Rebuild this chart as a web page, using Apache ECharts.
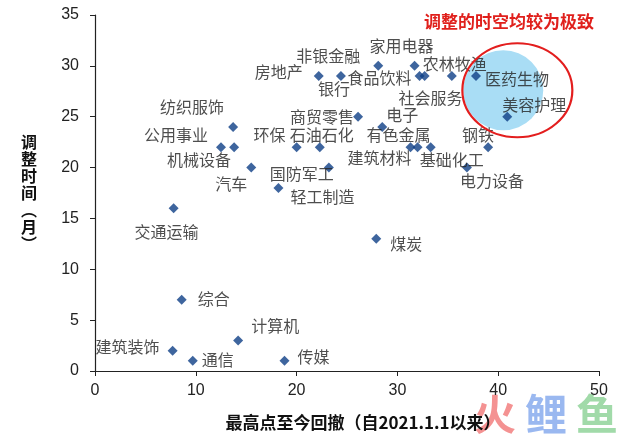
<!DOCTYPE html>
<html><head><meta charset="utf-8">
<script src="https://cdn.jsdelivr.net/npm/echarts@6/dist/echarts.min.js"></script>
<style>html,body{margin:0;padding:0;background:#fff}#c{width:640px;height:436px}</style>
</head><body><div id="c"></div>
<script>
// industry names
var names = ['非银金融','家用电器','房地产','银行','食品饮料','社会服务','农林牧渔','医药生物',
  '美容护理','商贸零售','电子','纺织服饰',
  '公用事业','机械设备','环保','石油石化','有色金属','建筑材料','基础化工','钢铁',
  '汽车','国防军工','电力设备','轻工制造','交通运输','煤炭',
  '综合','计算机','建筑装饰','通信','传媒'];
// drawdown from peak since 2021.1.1 (%)
var drawdown = [28.1,31.7,22.2,24.4,32.2,32.7,35.4,37.8,
  40.9,26.1,28.5,13.7,
  12.5,13.8,20.0,22.3,31.3,32.0,33.3,39.0,
  15.5,23.2,36.9,18.2,7.8,27.9,
  8.6,14.2,7.7,9.7,18.8];
// adjustment duration (months)
var months = [30,30,29,29,29,29,29,29,
  25,25,24,24,
  22,22,22,22,22,22,22,22,
  20,20,20,18,16,13,
  7,3,2,1,1];
var xTicks = [0,10,20,30,40,50];
var yTicks = [0,5,10,15,20,25,30,35];

// label layout (pixel offsets from marker), kept separate from data
var labelOffsets = {
  '非银金融':[-50,-10],'家用电器':[-13,-20],'房地产':[-40,-4],'银行':[-7,13],
  '食品饮料':[-40,2],'社会服务':[6,22],'农林牧渔':[3,-12],'医药生物':[41,3],
  '美容护理':[27,-12],'商贸零售':[-36,0],'电子':[20,-12],'纺织服饰':[-41,-20],
  '公用事业':[-45,-12],'机械设备':[-35,13],'环保':[-27,-12],'石油石化':[2,-12],
  '有色金属':[-12,-12],'建筑材料':[-38,11],'基础化工':[21,13],'钢铁':[-10,-12],
  '汽车':[-20,16],'国防军工':[-27,6],'电力设备':[25,13],'轻工制造':[44,9],
  '交通运输':[-7,24],'煤炭':[30,5],'综合':[32,-1],'计算机':[37,-15],
  '建筑装饰':[-45,-4],'通信':[25,-1],'传媒':[29,-4]
};

var pts = names.map(function(n,i){
  return {name:n, value:[drawdown[i], months[i]]};
});

var cjk = '"Noto Sans CJK SC", sans-serif';
var chart = echarts.init(document.getElementById('c'), null, {renderer:'canvas'});
chart.setOption({
  animation:false,
  grid:{left:95, right:41, top:15, bottom:65, containLabel:false},
  xAxis:{type:'value', min:xTicks[0], max:xTicks[xTicks.length-1], interval:10,
    name:'最高点至今回撤（自2021.1.1以来）', nameLocation:'middle', nameGap:43,
    nameTextStyle:{fontFamily:cjk, fontWeight:'bold', fontSize:17, color:'#111', padding:[0,0,0,32]},
    axisLine:{lineStyle:{color:'#222', width:1.2}},
    axisTick:{show:true, inside:false, length:5, lineStyle:{color:'#222'}},
    axisLabel:{fontFamily:'"Liberation Sans", Arial, sans-serif', fontSize:16, color:'#222', margin:12},
    splitLine:{show:false}},
  yAxis:{type:'value', min:yTicks[0], max:yTicks[yTicks.length-1], interval:5,
    name:'调\n整\n时\n间\n︵\n月\n︶', nameLocation:'middle', nameGap:58, nameRotate:0,
    nameTextStyle:{fontFamily:cjk, fontWeight:'bold', fontSize:16, lineHeight:17, color:'#111'},
    axisLine:{show:true, lineStyle:{color:'#222', width:1.2}},
    axisTick:{show:true, inside:false, length:5, lineStyle:{color:'#222'}},
    axisLabel:{fontFamily:'"Liberation Sans", Arial, sans-serif', fontSize:16, color:'#222', margin:16},
    splitLine:{show:false}},
  series:[{type:'scatter', symbol:'diamond', symbolSize:10, z:5,
    itemStyle:{color:'#0e3f86'},
    label:{show:true, formatter:'{b}', position:'inside', align:'center', verticalAlign:'middle',
      fontFamily:cjk, fontSize:16, color:'#222'},
    labelLayout:function(p){
      var o = labelOffsets[names[p.dataIndex]] || [0,-12];
      return {dx:o[0], dy:o[1], hideOverlap:false};
    },
    data:pts}]
});

// annotations
var cc = chart.convertToPixel({gridIndex:0}, [40.5, 27.6]);
var ec = chart.convertToPixel({gridIndex:0}, [41.9, 27.6]);
chart.setOption({graphic:[
  {type:'circle', z:1, shape:{cx:cc[0], cy:cc[1], r:40}, style:{fill:'#a9ddf5'}},
  {type:'ellipse', z:10, shape:{cx:ec[0], cy:ec[1], rx:55, ry:47}, style:{fill:null, stroke:'#e31e1e', lineWidth:2.2}},
  {type:'text', z:10, x:509, y:22, style:{text:'调整的时空均较为极致', fill:'#e0201c',
    font:'bold 17px "Noto Sans CJK SC"', textAlign:'center', textVerticalAlign:'middle'}},
  {type:'text', z:0, x:495, y:414, style:{text:'火', fill:'rgba(240,110,110,0.75)',
    font:'bold 42px "Noto Sans CJK SC"', textAlign:'center', textVerticalAlign:'middle'}},
  {type:'text', z:0, x:546, y:414, style:{text:'鲤', fill:'rgba(120,160,235,0.75)',
    font:'bold 42px "Noto Sans CJK SC"', textAlign:'center', textVerticalAlign:'middle'}},
  {type:'text', z:0, x:597, y:414, style:{text:'鱼', fill:'rgba(130,205,140,0.75)',
    font:'bold 42px "Noto Sans CJK SC"', textAlign:'center', textVerticalAlign:'middle'}}
]});
</script></body></html>
